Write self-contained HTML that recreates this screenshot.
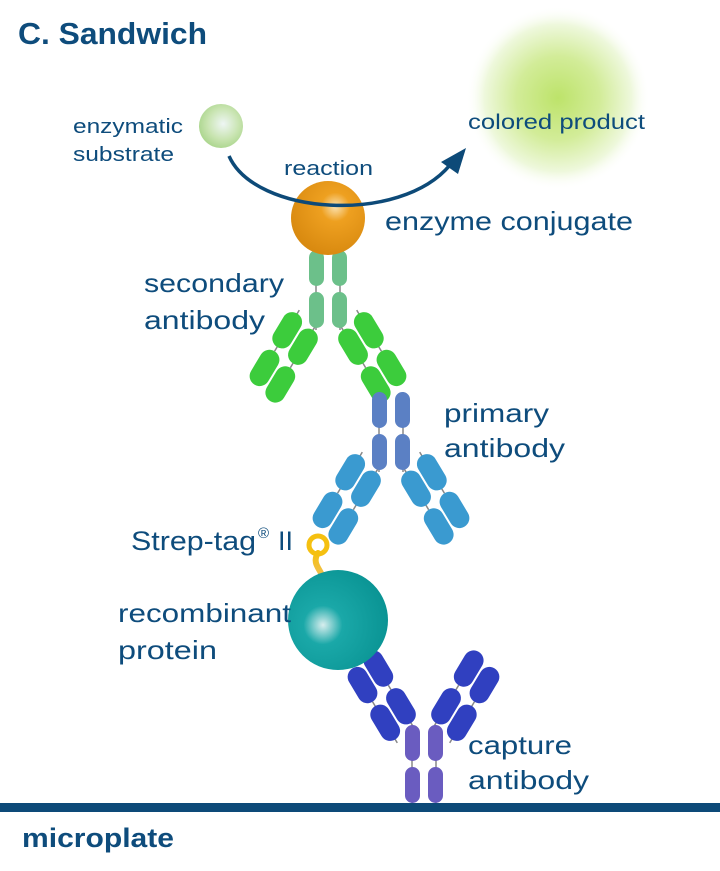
<!DOCTYPE html>
<html><head><meta charset="utf-8"><style>
html,body{margin:0;padding:0;background:#fff}
svg{display:block}
text{font-family:"Liberation Sans",sans-serif;fill:#0e4c7c}
</style></head><body>
<svg width="720" height="871" viewBox="0 0 720 871" xmlns="http://www.w3.org/2000/svg">
<defs>
<radialGradient id="prod" cx="0.5" cy="0.5" r="0.5">
<stop offset="0" stop-color="#bde36a"/><stop offset="0.45" stop-color="#d2ec98"/><stop offset="0.8" stop-color="#eef8dc"/><stop offset="1" stop-color="#ffffff" stop-opacity="0"/>
</radialGradient>
<radialGradient id="sub" cx="0.55" cy="0.45" r="0.6">
<stop offset="0" stop-color="#eef6f4"/><stop offset="0.6" stop-color="#c8e4b0"/><stop offset="1" stop-color="#a8d48a"/>
</radialGradient>
<radialGradient id="enz" cx="0.6" cy="0.35" r="0.65">
<stop offset="0" stop-color="#fbe2b0"/><stop offset="0.3" stop-color="#eea020"/><stop offset="1" stop-color="#d98a10"/>
</radialGradient>
<radialGradient id="rec" cx="0.35" cy="0.55" r="0.65">
<stop offset="0" stop-color="#d8eeee"/><stop offset="0.3" stop-color="#1aa8a8"/><stop offset="1" stop-color="#0a9494"/>
</radialGradient>
<linearGradient id="tag" x1="0" y1="0" x2="0" y2="1">
<stop offset="0" stop-color="#f5c010"/><stop offset="0.6" stop-color="#f0c050"/><stop offset="1" stop-color="#20a0a0"/>
</linearGradient>
<g id="armL">
<path d="M0,-4 L0,44 M-22,-10 L-22,38" stroke="#888" stroke-width="1.5"/>
<rect x="-10" y="0" width="20" height="39" rx="10"/>
<rect x="-10" y="44" width="20" height="39" rx="10"/>
<rect x="-32" y="-6" width="20" height="39" rx="10"/>
<rect x="-32" y="38" width="20" height="39" rx="10"/>
</g>
<g id="armR">
<path d="M0,-4 L0,44 M22,-10 L22,38" stroke="#888" stroke-width="1.5"/>
<rect x="-10" y="0" width="20" height="39" rx="10"/>
<rect x="-10" y="44" width="20" height="39" rx="10"/>
<rect x="12" y="-6" width="20" height="39" rx="10"/>
<rect x="12" y="38" width="20" height="39" rx="10"/>
</g>
<g id="stem">
<path d="M-12,0 L-12,80 M12,0 L12,80" stroke="#888" stroke-width="1.5"/>
<rect x="-19" y="0" width="15" height="36" rx="7.5"/>
<rect x="-19" y="42" width="15" height="36" rx="7.5"/>
<rect x="4" y="0" width="15" height="36" rx="7.5"/>
<rect x="4" y="42" width="15" height="36" rx="7.5"/>
</g>
</defs>

<circle cx="558" cy="98" r="92" fill="url(#prod)"/>

<text x="18" y="44" font-size="31" font-weight="bold" textLength="189" lengthAdjust="spacingAndGlyphs">C. Sandwich</text>

<circle cx="221" cy="126" r="22" fill="url(#sub)"/>
<text x="73" y="133" font-size="20" textLength="110" lengthAdjust="spacingAndGlyphs">enzymatic</text>
<text x="73" y="161" font-size="20" textLength="101" lengthAdjust="spacingAndGlyphs">substrate</text>
<text x="284" y="175" font-size="20" textLength="89" lengthAdjust="spacingAndGlyphs">reaction</text>
<text x="468" y="129" font-size="21" textLength="177" lengthAdjust="spacingAndGlyphs">colored product</text>

<g fill="#3ccc3c">
<use href="#armL" transform="translate(313,330) rotate(31)"/>
<use href="#armR" transform="translate(343,330) rotate(-31)"/>
</g>
<g fill="#6cc08a"><use href="#stem" transform="translate(328,250)"/></g>

<circle cx="328" cy="218" r="37" fill="url(#enz)"/>
<path d="M229,156 C255,215 400,225 450,165" fill="none" stroke="#0d4a78" stroke-width="3.5"/>
<polygon points="466,148 441,162 458,174" fill="#0d4a78"/>

<text x="385" y="230" font-size="26" textLength="248" lengthAdjust="spacingAndGlyphs">enzyme conjugate</text>
<text x="144" y="292" font-size="26" textLength="140" lengthAdjust="spacingAndGlyphs">secondary</text>
<text x="144" y="329" font-size="26" textLength="121" lengthAdjust="spacingAndGlyphs">antibody</text>

<g fill="#3a9ad0">
<use href="#armL" transform="translate(376,472) rotate(31)"/>
<use href="#armR" transform="translate(406,472) rotate(-31)"/>
</g>
<g fill="#5b80c4"><use href="#stem" transform="translate(391,392)"/></g>
<text x="444" y="422" font-size="26" textLength="105" lengthAdjust="spacingAndGlyphs">primary</text>
<text x="444" y="457" font-size="26" textLength="121" lengthAdjust="spacingAndGlyphs">antibody</text>

<path d="M318,553 C310,565 325,572 322,580 C320,590 330,592 336,592" fill="none" stroke="url(#tag)" stroke-width="6" stroke-linecap="round"/>
<circle cx="318" cy="545" r="9" fill="none" stroke="#f5c010" stroke-width="5"/>
<text x="131" y="550" font-size="27" textLength="125" lengthAdjust="spacingAndGlyphs">Strep-tag</text>
<text x="258" y="538" font-size="15">®</text>
<text x="278" y="550" font-size="27">II</text>

<g fill="#3040c0">
<use href="#armR" transform="translate(411,723) rotate(149)"/>
<use href="#armL" transform="translate(436,723) rotate(-149)"/>
</g>
<g fill="#6a5cc0"><use href="#stem" transform="translate(424,725)"/></g>

<circle cx="338" cy="620" r="50" fill="url(#rec)"/>
<text x="118" y="622" font-size="26" textLength="173" lengthAdjust="spacingAndGlyphs">recombinant</text>
<text x="118" y="659" font-size="26" textLength="99" lengthAdjust="spacingAndGlyphs">protein</text>

<text x="468" y="754" font-size="26" textLength="104" lengthAdjust="spacingAndGlyphs">capture</text>
<text x="468" y="789" font-size="26" textLength="121" lengthAdjust="spacingAndGlyphs">antibody</text>

<rect x="0" y="803" width="720" height="9" fill="#0d4a78"/>
<text x="22" y="847" font-size="27" font-weight="bold" textLength="152" lengthAdjust="spacingAndGlyphs">microplate</text>
</svg>
</body></html>
